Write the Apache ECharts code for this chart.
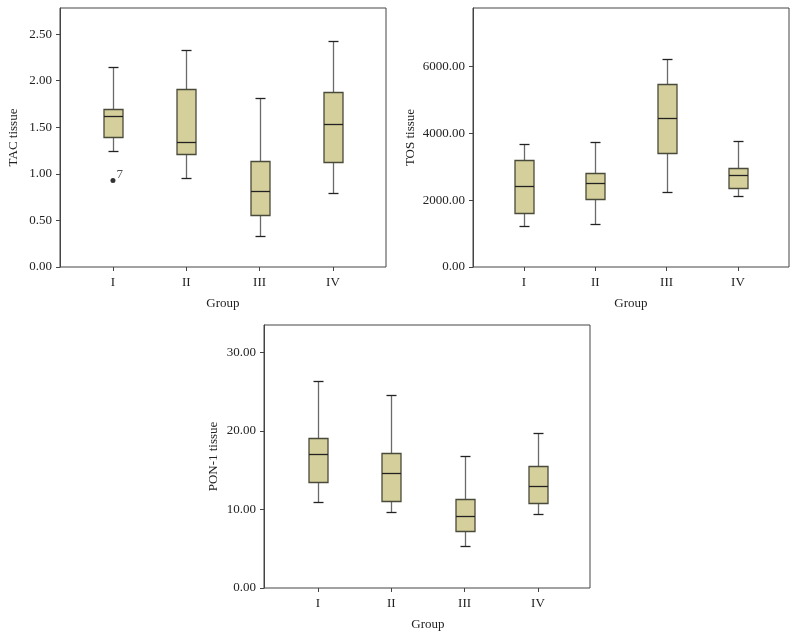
<!DOCTYPE html>
<html>
<head>
<meta charset="utf-8">
<script src="https://cdn.jsdelivr.net/npm/echarts@6/dist/echarts.min.js"></script>
<style>html,body{margin:0;padding:0;background:#fff}#c{width:798px;height:638px}</style>
</head>
<body>
<div id="c"></div>
<script>
// Data: [min, Q1, median, Q3, max]
const groups = ['I', 'II', 'III', 'IV'];
const tacBoxes = [
  [1.25, 1.397, 1.626, 1.701, 2.142],
  [0.96, 1.218, 1.343, 1.913, 2.332],
  [0.337, 0.559, 0.813, 1.143, 1.809],
  [0.799, 1.132, 1.540, 1.877, 2.421]
];
const tacOutliers = [[0, 0.928, '7']];
const tosBoxes = [
  [1222, 1603, 2414, 3195, 3676],
  [1302, 2033, 2514, 2805, 3736],
  [2234, 3406, 4478, 5479, 6241],
  [2114, 2374, 2755, 2975, 3766]
];
const ponBoxes = [
  [11.01, 13.51, 17.12, 19.16, 26.35],
  [9.65, 11.05, 14.62, 17.25, 24.60],
  [5.40, 7.31, 9.18, 11.39, 16.78],
  [9.43, 10.84, 12.96, 15.55, 19.76]
];
const tacTicks = [0, 0.5, 1, 1.5, 2, 2.5];
const tosTicks = [0, 2000, 4000, 6000];
const ponTicks = [0, 10, 20, 30];

const FONT = 'Liberation Serif';
const TXT = '#222';
const LINE = '#444';
const FILL = '#d5cf9b';

const panels = [
  { name: 'TAC tissue', boxes: tacBoxes, ticks: tacTicks, max: 2.78, frame: {left: 60, top: 8, width: 326, height: 259}, inner: {left: 76.3, width: 293.3}, nameGap: 40 },
  { name: 'TOS tissue', boxes: tosBoxes, ticks: tosTicks, max: 7760, frame: {left: 473, top: 8, width: 316, height: 259}, inner: {left: 488.3, width: 285.3}, nameGap: 56 },
  { name: 'PON-1 tissue', boxes: ponBoxes, ticks: ponTicks, max: 33.5, frame: {left: 264, top: 325, width: 326, height: 263}, inner: {left: 281.3, width: 293.3}, nameGap: 44 }
];

function renderBox(params, api) {
  const x = api.value(0);
  const lo = api.coord([x, api.value(1)]);
  const q1 = api.coord([x, api.value(2)]);
  const md = api.coord([x, api.value(3)]);
  const q3 = api.coord([x, api.value(4)]);
  const hi = api.coord([x, api.value(5)]);
  const cx = Math.round(lo[0]) + 0.5;
  const bw = 19, cw = 10;
  const r = v => Math.round(v) + 0.5;
  return {
    type: 'group',
    children: [
      { type: 'line', shape: { x1: cx, y1: r(hi[1]), x2: cx, y2: r(q3[1]) }, style: { stroke: '#6a6a6a', lineWidth: 1.3 } },
      { type: 'line', shape: { x1: cx, y1: r(q1[1]), x2: cx, y2: r(lo[1]) }, style: { stroke: '#6a6a6a', lineWidth: 1.3 } },
      { type: 'line', shape: { x1: cx - cw / 2, y1: r(hi[1]), x2: cx + cw / 2, y2: r(hi[1]) }, style: { stroke: '#222', lineWidth: 1.3 } },
      { type: 'line', shape: { x1: cx - cw / 2, y1: r(lo[1]), x2: cx + cw / 2, y2: r(lo[1]) }, style: { stroke: '#222', lineWidth: 1.3 } },
      { type: 'rect', shape: { x: cx - bw / 2, y: r(q3[1]), width: bw, height: r(q1[1]) - r(q3[1]) }, style: { fill: FILL, stroke: '#4a4a3a', lineWidth: 1.3 } },
      { type: 'line', shape: { x1: cx - bw / 2, y1: r(md[1]), x2: cx + bw / 2, y2: r(md[1]) }, style: { stroke: '#222', lineWidth: 1.3 } }
    ]
  };
}

const grid = [], xAxis = [], yAxis = [], series = [];
panels.forEach((p, i) => {
  const fi = grid.length;
  grid.push({ left: p.frame.left, top: p.frame.top, width: p.frame.width, height: p.frame.height, show: true, borderColor: LINE, borderWidth: 1, backgroundColor: 'transparent', containLabel: false });
  const ii = grid.length;
  grid.push({ left: p.inner.left, top: p.frame.top, width: p.inner.width, height: p.frame.height, show: false, containLabel: false });
  xAxis.push({ gridIndex: fi, type: 'value', show: false, min: 0, max: 1 });
  yAxis.push({
    gridIndex: fi, type: 'value', min: 0, max: p.max,
    name: p.name, nameLocation: 'middle', nameRotate: 90, nameGap: p.nameGap,
    nameTextStyle: { fontFamily: FONT, fontSize: 13, color: TXT },
    axisLine: { show: true, lineStyle: { color: LINE, width: 1 } },
    axisTick: { show: true, length: 4, lineStyle: { color: LINE }, customValues: p.ticks },
    axisLabel: { fontFamily: FONT, fontSize: 13, color: TXT, margin: 8, customValues: p.ticks, formatter: v => v.toFixed(2) },
    splitLine: { show: false }
  });
  xAxis.push({
    gridIndex: ii, type: 'category', data: groups, boundaryGap: true,
    name: 'Group', nameLocation: 'middle', nameGap: 30,
    nameTextStyle: { fontFamily: FONT, fontSize: 13, color: TXT },
    axisLine: { show: false },
    axisTick: { show: true, alignWithLabel: true, length: 4, lineStyle: { color: LINE } },
    axisLabel: { fontFamily: FONT, fontSize: 13, color: TXT, margin: 9 },
    splitLine: { show: false }
  });
  yAxis.push({ gridIndex: ii, type: 'value', min: 0, max: p.max, show: false, splitLine: { show: false } });
  series.push({
    type: 'custom', xAxisIndex: ii, yAxisIndex: ii,
    data: p.boxes.map((b, k) => [k].concat(b)),
    encode: { x: 0, y: [1, 2, 3, 4, 5] },
    renderItem: renderBox,
    silent: true
  });
  if (i === 0) {
    series.push({
      type: 'scatter', xAxisIndex: ii, yAxisIndex: ii,
      data: tacOutliers.map(d => [d[0], d[1], d[2]]),
      symbolSize: 5, itemStyle: { color: '#000' },
      label: { show: true, position: 'right', distance: 1, offset: [0, -6], formatter: d => d.value[2], fontFamily: FONT, fontSize: 13, color: TXT },
      silent: true
    });
  }
});

const chart = echarts.init(document.getElementById('c'), null, { renderer: 'canvas' });
chart.setOption({ animation: false, backgroundColor: '#fff', grid, xAxis, yAxis, series });
</script>
</body>
</html>
